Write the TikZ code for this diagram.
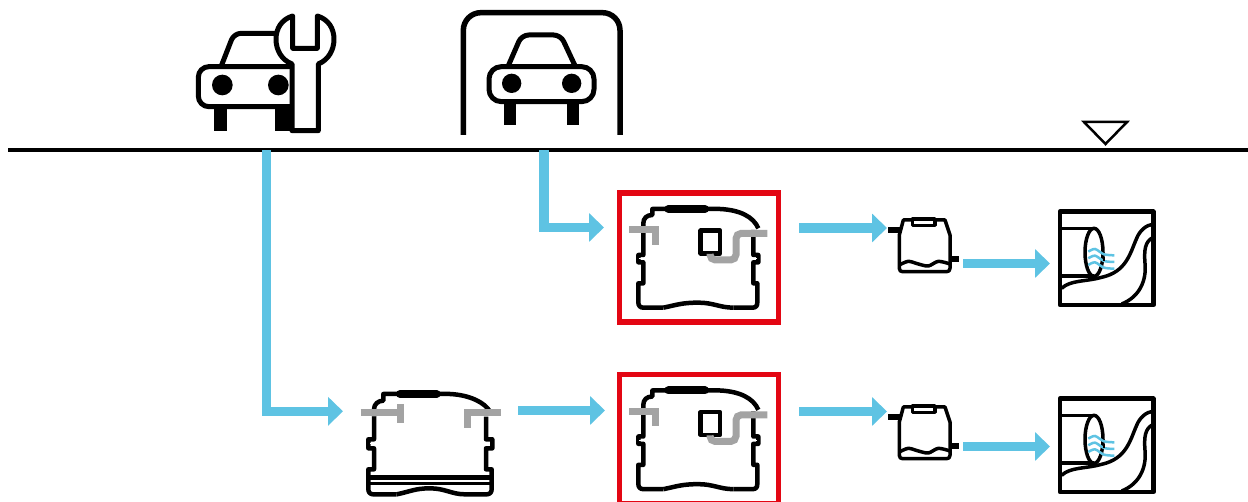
\documentclass[tikz,border=0pt]{standalone}
\usetikzlibrary{arrows.meta}
\newcommand{\upx}{0.02cm}
\definecolor{flowblue}{HTML}{5EC3E3}
\definecolor{boxred}{HTML}{E30613}
\definecolor{pipegray}{HTML}{A3A3A3}
\tikzset{
	outline/.style={draw=black, line width=4.5*\upx, line join=round},
	carline/.style={draw=black, line width=5*\upx, line join=round},
	thinline/.style={draw=black, line width=3.5*\upx, line join=round},
	pipe/.style={draw=pipegray, line width=7*\upx},
	servicecar/.pic={
		\begin{scope}[scale=1/3]
		\draw[carline, rounded corners=4pt] (125,195) -- (162,100) -- (300,100);
		\draw[carline, rounded corners=6pt] (345,200) -- (55,200) -- (55,320) -- (345,320);
		\fill (127,255) circle (31);
		\fill (295,255) circle (31);
		\fill (103,322) rectangle (140,392);
		\fill (285,322) rectangle (335,392);
		\draw[carline, fill=white] (338,48) .. controls (305,58) and (288,85) .. (288,118)
			.. controls (288,150) and (305,180) .. (336,192) -- (336,392) -- (415,392) -- (415,192)
			.. controls (445,180) and (462,150) .. (462,118) .. controls (462,85) and (445,58) .. (412,48)
			-- (412,145) -- (338,145) -- cycle;
		\end{scope}
	},
	parkedcar/.pic={
		\begin{scope}[scale=1/3]
		\draw[draw=black, line width=5.5*\upx, rounded corners=10pt] (40,405) -- (40,38) -- (510,38) -- (510,405);
		\draw[carline, rounded corners=4pt] (175,197) -- (215,105) -- (332,105) -- (375,197);
		\draw[carline, rounded corners=7pt] (117,200) rectangle (432,305);
		\fill (185,250) circle (29);
		\fill (365,250) circle (29);
		\fill (163,308) rectangle (197,375);
		\fill (352,308) rectangle (387,375);
		\end{scope}
	},
	tankbody/.pic={
		\begin{scope}[scale=1/3]
		\draw[outline] (100,135) -- (100,210) -- (85,210) -- (85,232) -- (100,232) -- (100,295) -- (85,295) -- (85,352)
			.. controls (85,362) and (90,368) .. (100,368) -- (160,368);
		\draw[outline] (160,368) .. controls (200,360) and (215,353) .. (265,353) .. controls (310,353) and (330,368) .. (370,368);
		\draw[outline] (370,368) -- (428,368) .. controls (438,368) and (442,362) .. (442,352) -- (442,295) -- (430,295)
			-- (430,232) -- (445,232) -- (445,210) -- (430,210) -- (430,135);
		\draw[outline] (100,135) -- (100,115) .. controls (100,100) and (110,90) .. (127,90) -- (127,72) -- (170,72);
		\draw[outline] (290,72) -- (330,72) .. controls (390,75) and (430,95) .. (445,130);
		\draw[line width=8*\upx, line cap=round] (175,72) -- (285,72);
		\draw[white, line width=1*\upx] (88,221) -- (108,221) (422,221) -- (442,221);
		\end{scope}
	},
	sumptank/.pic={
		\begin{scope}[scale=1/3]
		\pic {tankbody};
		\draw[outline] (272,137) rectangle (330,205);
		\draw[pipe] (57,135) -- (137,135) -- (137,180);
		\draw[pipe, rounded corners=3pt] (472,145) -- (378,145) -- (378,225) -- (300,225) -- (300,207);
		\end{scope}
	},
	settletank/.pic={
		\begin{scope}[scale=1/3]
		\draw[outline] (72,110) -- (72,178) -- (55,178) -- (55,205) -- (72,205) -- (72,268) -- (55,268) -- (55,327)
			.. controls (55,337) and (60,343) .. (70,343) -- (140,343);
		\draw[outline] (140,343) .. controls (180,335) and (195,325) .. (240,325) .. controls (285,325) and (305,343) .. (345,343);
		\draw[outline] (345,343) -- (410,343) .. controls (420,343) and (425,337) .. (425,327) -- (425,268) -- (408,268)
			-- (408,205) -- (427,205) -- (427,178) -- (408,178) -- (408,110);
		\draw[outline] (72,110) -- (72,88) .. controls (72,72) and (85,62) .. (100,62) -- (100,42) -- (145,42);
		\draw[outline] (265,42) -- (300,42) .. controls (360,45) and (405,68) .. (420,95);
		\draw[line width=8*\upx, line cap=round] (150,42) -- (260,42);
		\draw[line width=5*\upx] (55,292) -- (425,292);
		\draw[line width=3*\upx] (55,310) -- (425,310);
		\draw[white, line width=1*\upx] (60,191) -- (80,191) (400,191) -- (420,191);
		\draw[pipe] (32,98) -- (150,98);
		\draw[pipe] (150,72) -- (150,128);
		\draw[pipe] (452,98) -- (352,98) -- (352,145);
		\end{scope}
	},
	filtertank/.pic={
		\begin{scope}[scale=1/3]
		\draw[thinline] (97,60) -- (70,60) -- (58,105) -- (58,205) .. controls (58,212) and (62,215) .. (68,215) -- (200,215)
			.. controls (206,215) and (210,212) .. (210,205) -- (210,105) -- (195,60) -- (165,60);
		\draw[thinline] (97,57) rectangle (165,76);
		\fill (25,80) rectangle (60,100);
		\fill (208,169) rectangle (236,187);
		\draw[thinline] plot[smooth] coordinates {(58,195) (85,184) (115,192) (145,198) (175,184) (210,192)};
		\end{scope}
	},
	outfall/.pic={
		\begin{scope}[scale=1/3]
		\draw[outline] (540,35) rectangle (820,315);
		\draw[thinline] (540,85) -- (642,85) (540,228) -- (642,228);
		\draw[thinline] (642,157) ellipse [x radius=27, y radius=72];
		\draw[thinline] (545,265) .. controls (570,240) and (620,245) .. (665,232) .. controls (740,215) and (750,160) .. (770,115) .. controls (780,90) and (800,75) .. (818,73);
		\draw[thinline] (725,312) .. controls (780,290) and (800,240) .. (795,190) .. controls (792,150) and (795,125) .. (818,113);
		\draw[draw=flowblue, line width=2.5*\upx] plot[smooth] coordinates {(625,155) (645,147) (672,163) (703,166)}
			plot[smooth] coordinates {(625,175) (645,167) (672,183) (703,186)}
			plot[smooth] coordinates {(625,195) (645,187) (672,203) (703,206)};
		\fill (668,172) rectangle (676,182);
		\end{scope}
	}
}

\begin{document}
\begin{tikzpicture}[x=\upx, y=-\upx]
	\tikzstyle{flow} = [draw=flowblue, line width=9.5*\upx, -{Triangle[length=15*\upx, width=28*\upx]}]
	\tikzstyle{redbox} = [draw=boxred, line width=5.5*\upx, minimum width=159*\upx, minimum height=129*\upx, inner sep=0pt]
	\clip (0,0) rectangle (1248,502);

	% ground and water level
	\coordinate (groundL) at (8,150);
	\coordinate (groundR) at (1248,150);
	\coordinate (levelA) at (1084,122);
	\coordinate (levelB) at (1127,122);
	\coordinate (levelC) at (1105.5,144);
	\draw[line width=3.5*\upx] (groundL) -- (groundR);
	\draw[line width=2.5*\upx, line join=miter] (levelA) -- (levelB) -- (levelC) -- cycle;

	% surfaces
	\pic at (180,0) {servicecar};
	\pic at (450,0) {parkedcar};

	% upper row
	\node[redbox] (sumpA) at (699,257.7) {};
	\pic at (610,185) {sumptank};
	\pic at (880,200) {filtertank};
	\pic at (880,200) {outfall};

	% lower row
	\pic at (350,380) {settletank};
	\node[redbox] (sumpB) at (699,439.2) {};
	\pic at (610,366.5) {sumptank};
	\pic at (880,387) {filtertank};
	\pic at (880,387) {outfall};

	% ends of the connectors
	\coordinate (washOut) at (266.7,150);
	\coordinate (parkOut) at (543.8,150);
	\coordinate (sumpAin) at (604,227.5);
	\coordinate (sumpAout) at (799,228);
	\coordinate (filterAin) at (887,228);
	\coordinate (filterAout) at (963,263.5);
	\coordinate (outfallAin) at (1050,263.5);
	\coordinate (settleIn) at (343,411.3);
	\coordinate (settleOut) at (518,410.5);
	\coordinate (sumpBin) at (605,410.5);
	\coordinate (sumpBout) at (799,411.5);
	\coordinate (filterBin) at (887,411.5);
	\coordinate (filterBout) at (963,446.5);
	\coordinate (outfallBin) at (1050,446.5);

	\path[flow] (washOut) |- (settleIn);
	\path[flow] (parkOut) |- (sumpAin);
	\path[flow] (sumpAout) -- (filterAin);
	\path[flow] (filterAout) -- (outfallAin);
	\path[flow] (settleOut) -- (sumpBin);
	\path[flow] (sumpBout) -- (filterBin);
	\path[flow] (filterBout) -- (outfallBin);
\end{tikzpicture}
\end{document}
